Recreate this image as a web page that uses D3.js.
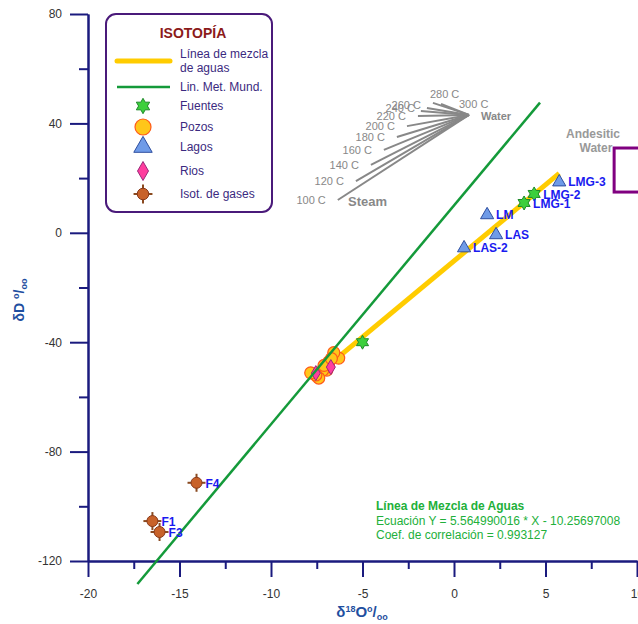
<!DOCTYPE html>
<html>
<head>
<meta charset="utf-8">
<script src="https://cdn.jsdelivr.net/npm/d3@7"></script>
<style>
  body { margin: 0; background: #fff; }
  svg { font-family: "Liberation Sans", Arial, sans-serif; }
</style>
</head>
<body>
<script>
// --- data ---
const yTicksMajor = [-120, -80, -40, 0, 40, 80];
const yTicksMinor = [-100, -60, -20, 20, 60];
const xTicksMajor = [-20, -15, -10, -5, 0, 5, 10];
const xTicksMinor = [-17.5, -12.5, -7.5, -2.5, 2.5, 7.5];

const fuentes = [
  { x: -5.0, y: -40.0, label: "" },
  { x: 3.83, y: 10.9, label: "LMG-1" },
  { x: 4.38, y: 14.2, label: "LMG-2" }
];
const pozos = [
  { x: -6.3, y: -45.8 }, { x: -6.57, y: -43.8 }, { x: -6.84, y: -47.2 },
  { x: -6.95, y: -50.2 }, { x: -7.17, y: -50.2 }, { x: -7.39, y: -53.1 },
  { x: -7.55, y: -52.0 }, { x: -7.83, y: -51.2 }, { x: -7.1, y: -48.5 },
  { x: -6.7, y: -46.0 }
];
const lagos = [
  { x: 5.75, y: 18.9, label: "LMG-3" },
  { x: 1.81, y: 6.9, label: "LM" },
  { x: 2.30, y: -0.4, label: "LAS" },
  { x: 0.55, y: -5.2, label: "LAS-2" }
];
const rios = [
  { x: -6.73, y: -49.1 }, { x: -7.55, y: -51.3 }
];
const gases = [
  { x: -14.07, y: -91.4, label: "F4" },
  { x: -16.48, y: -105.4, label: "F1" },
  { x: -16.09, y: -109.4, label: "F3" }
];

const mezclaLine = [[-7.8, -53.7], [5.75, 21.7]];
const meteoricLine = [[-17.3, -128.4], [4.7, 47.6]];

const waterPoint = [0.82, 43.1];
const steamEnds = [
  { t: "100 C", x: -6.35, y: 12.0 },
  { t: "120 C", x: -5.36, y: 18.9 },
  { t: "140 C", x: -4.54, y: 24.8 },
  { t: "160 C", x: -3.83, y: 30.3 },
  { t: "180 C", x: -3.12, y: 35.0 },
  { t: "200 C", x: -2.57, y: 39.0 },
  { t: "220 C", x: -1.97, y: 42.7 },
  { t: "240 C", x: -1.81, y: 44.5 },
  { t: "260 C", x: -1.48, y: 45.6 },
  { t: "280 C", x: -1.15, y: 47.5 },
  { t: "300 C", x: -0.71, y: 47.1 }
];
const andesiticBox = { x0: 8.75, x1: 11.5, y0: 14.9, y1: 31.0 };

const legendItems = ["Línea de mezcla|de aguas", "Lin. Met. Mund.", "Fuentes", "Pozos", "Lagos", "Rios", "Isot. de gases"];
const equationLines = ["Línea de Mezcla de Aguas", "Ecuación Y = 5.564990016 * X - 10.25697008", "Coef. de correlación = 0.993127"];

// --- layout ---
const W = 638, H = 624;
const axisColor = "#1a1a7e";
const svg = d3.select("body").append("svg").attr("width", W).attr("height", H);

const x = d3.scaleLinear().domain([-20, 10]).range([88, 637]);
const y = d3.scaleLinear().domain([-120, 80]).range([561, 14]);

// axes (hyphen minus like the original, not the unicode minus)
const fmt = d => String(d);
function styleAxis(g) {
  g.selectAll("path, line").attr("stroke", axisColor).attr("stroke-width", 2);
  g.selectAll("text").attr("fill", "#333").attr("font-size", 12)
    .attr("font-family", "Liberation Sans, Arial, sans-serif");
}
svg.append("g").attr("transform", "translate(88,0)")
  .call(d3.axisLeft(y).tickValues(yTicksMinor).tickSize(9).tickFormat("").tickSizeOuter(0))
  .call(styleAxis);
svg.append("g").attr("transform", "translate(88,0)")
  .call(d3.axisLeft(y).tickValues(yTicksMajor).tickSize(18).tickPadding(8).tickSizeOuter(0).tickFormat(fmt))
  .call(styleAxis);
svg.append("g").attr("transform", "translate(0,561)")
  .call(d3.axisBottom(x).tickValues(xTicksMinor).tickSize(8).tickFormat("").tickSizeOuter(0))
  .call(styleAxis);
svg.append("g").attr("transform", "translate(0,561)")
  .call(d3.axisBottom(x).tickValues(xTicksMajor).tickSize(16).tickPadding(12).tickSizeOuter(0).tickFormat(fmt))
  .call(styleAxis);

// axis titles
const xt = svg.append("text").attr("x", 362).attr("y", 617).attr("text-anchor", "middle")
  .attr("fill", "#1f4fa0").attr("font-weight", "bold").attr("font-size", 15);
xt.append("tspan").text("δ");
xt.append("tspan").attr("font-size", 9).attr("dy", -5).text("18");
xt.append("tspan").attr("dy", 5).text("O");
xt.append("tspan").attr("font-size", 9).attr("dy", -5).text("o");
xt.append("tspan").attr("dy", 5).text("/");
xt.append("tspan").attr("font-size", 9).attr("dy", 3).text("oo");

const yt = svg.append("text").attr("transform", "translate(24,300) rotate(-90)")
  .attr("text-anchor", "middle").attr("fill", "#1f4fa0").attr("font-weight", "bold").attr("font-size", 14);
yt.append("tspan").text("δD ");
yt.append("tspan").attr("font-size", 9).attr("dy", -5).text("o");
yt.append("tspan").attr("dy", 5).text("/");
yt.append("tspan").attr("font-size", 9).attr("dy", 3).text("oo");

// steam / water fan
const fan = svg.append("g");
steamEnds.forEach((d, i) => {
  fan.append("line")
    .attr("x1", x(d.x)).attr("y1", y(d.y))
    .attr("x2", x(waterPoint[0])).attr("y2", y(waterPoint[1]))
    .attr("stroke", "#888").attr("stroke-width", 2);
  let lx = x(d.x) - 12, ly = y(d.y) + 4, anchor = "end";
  if (d.t === "280 C") { lx = x(d.x) - 3; ly = y(d.y) - 5; anchor = "start"; }
  if (d.t === "300 C") { lx = x(d.x) + 18; ly = y(d.y) + 4; anchor = "start"; }
  if (d.t === "240 C" || d.t === "260 C") { lx = x(d.x) - 6; ly = y(d.y) + 1; }
  fan.append("text").attr("x", lx).attr("y", ly).attr("text-anchor", anchor)
    .attr("fill", "#888").attr("font-size", 11).text(d.t);
});
fan.append("text").attr("x", x(waterPoint[0]) + 12).attr("y", y(waterPoint[1]) + 5)
  .attr("fill", "#888").attr("font-weight", "bold").attr("font-size", 11).text("Water");
fan.append("text").attr("x", 348).attr("y", 206)
  .attr("fill", "#888").attr("font-weight", "bold").attr("font-size", 13).text("Steam");

// andesitic water
svg.append("rect")
  .attr("x", x(andesiticBox.x0)).attr("y", y(andesiticBox.y1))
  .attr("width", x(andesiticBox.x1) - x(andesiticBox.x0))
  .attr("height", y(andesiticBox.y0) - y(andesiticBox.y1))
  .attr("fill", "none").attr("stroke", "#800080").attr("stroke-width", 3);
svg.append("text").attr("x", 593).attr("y", 138).attr("text-anchor", "middle")
  .attr("fill", "#999").attr("font-weight", "bold").attr("font-size", 12).text("Andesitic");
svg.append("text").attr("x", 596).attr("y", 152).attr("text-anchor", "middle")
  .attr("fill", "#999").attr("font-weight", "bold").attr("font-size", 12).text("Water");

// lines
const line = d3.line().x(d => x(d[0])).y(d => y(d[1]));
svg.append("path").datum(mezclaLine).attr("d", line)
  .attr("stroke", "#ffcc00").attr("stroke-width", 5).attr("fill", "none");

// markers
function starPath(ro, ri) {
  const pts = [];
  for (let k = 0; k < 12; k++) {
    const r = k % 2 === 0 ? ro : ri;
    const a = -Math.PI / 2 + k * Math.PI / 6;
    pts.push([r * Math.cos(a), r * Math.sin(a)]);
  }
  return "M" + pts.map(p => p.join(",")).join("L") + "Z";
}
function diamondPath(w, h) {
  return `M0,${-h / 2}L${w / 2},0L0,${h / 2}L${-w / 2},0Z`;
}
const triPath = d3.symbol().type(d3.symbolTriangle).size(75)();

function drawStar(g, cx, cy, s) {
  g.append("path").attr("transform", `translate(${cx},${cy})`).attr("d", starPath(7 * s, 4 * s))
    .attr("fill", "#3ccf3c").attr("stroke", "#1f8a2a").attr("stroke-width", 1);
}
function drawCircle(g, cx, cy, r) {
  g.append("circle").attr("cx", cx).attr("cy", cy).attr("r", r)
    .attr("fill", "#ffc61a").attr("stroke", "#ff5a1a").attr("stroke-width", 1.2);
}
function drawTri(g, cx, cy, s) {
  g.append("path").attr("transform", `translate(${cx},${cy + 1}) scale(${s})`).attr("d", triPath)
    .attr("fill", "#6f9be8").attr("stroke", "#2f4fa0").attr("stroke-width", 1 / s);
}
function drawDiamond(g, cx, cy, w, h) {
  g.append("path").attr("transform", `translate(${cx},${cy})`).attr("d", diamondPath(w, h))
    .attr("fill", "#ff3d9e").attr("stroke", "#9a2a7a").attr("stroke-width", 1);
}
function drawGas(g, cx, cy, s) {
  g.append("line").attr("x1", cx - 9 * s).attr("x2", cx + 9 * s).attr("y1", cy).attr("y2", cy)
    .attr("stroke", "#8a4a20").attr("stroke-width", 2);
  g.append("line").attr("x1", cx).attr("x2", cx).attr("y1", cy - 9 * s).attr("y2", cy + 9 * s)
    .attr("stroke", "#8a4a20").attr("stroke-width", 2);
  g.append("circle").attr("cx", cx).attr("cy", cy).attr("r", 5.5 * s)
    .attr("fill", "#c8622a").attr("stroke", "#8a3a1a").attr("stroke-width", 1);
}

const pts = svg.append("g");
pozos.forEach(d => drawCircle(pts, x(d.x), y(d.y), 6));
rios.forEach(d => drawDiamond(pts, x(d.x), y(d.y), 9, 15));
fuentes.forEach(d => drawStar(pts, x(d.x), y(d.y), 1));
lagos.forEach(d => drawTri(pts, x(d.x), y(d.y), 1));
gases.forEach(d => drawGas(pts, x(d.x), y(d.y), 1));

// meteoric water line on top
svg.append("path").datum(meteoricLine).attr("d", line)
  .attr("stroke", "#149a3a").attr("stroke-width", 2.5).attr("fill", "none");

// point labels
const labelled = fuentes.concat(lagos, gases).filter(d => d.label);
svg.append("g").selectAll("text").data(labelled).join("text")
  .attr("x", d => x(d.x) + 9).attr("y", d => y(d.y) + 5)
  .attr("fill", "#1a1af0").attr("font-weight", "bold").attr("font-size", 12)
  .text(d => d.label);

// equation box
svg.append("g").selectAll("text").data(equationLines).join("text")
  .attr("x", 376).attr("y", (d, i) => 510 + i * 14.5)
  .attr("fill", "#22b03a").attr("font-size", 12)
  .attr("font-weight", (d, i) => i === 0 ? "bold" : "normal")
  .text(d => d);

// legend
const lg = svg.append("g");
lg.append("rect").attr("x", 106).attr("y", 14).attr("width", 166).attr("height", 198)
  .attr("rx", 10).attr("fill", "#fff").attr("stroke", "#4a1a7a").attr("stroke-width", 2);
lg.append("text").attr("x", 193).attr("y", 38).attr("text-anchor", "middle")
  .attr("fill", "#8b1a1a").attr("font-weight", "bold").attr("font-size", 14).text("ISOTOPÍA");
const rowY = [61, 87, 106, 127, 147, 171, 194];
const textColor = "#3b2a80";
legendItems.forEach((t, i) => {
  const parts = t.split("|");
  if (parts.length > 1) {
    lg.append("text").attr("x", 180).attr("y", rowY[i] - 3).attr("fill", textColor).attr("font-size", 12).text(parts[0]);
    lg.append("text").attr("x", 180).attr("y", rowY[i] + 11).attr("fill", textColor).attr("font-size", 12).text(parts[1]);
  } else {
    lg.append("text").attr("x", 180).attr("y", rowY[i] + 4).attr("fill", textColor).attr("font-size", 12).text(t);
  }
});
lg.append("line").attr("x1", 117).attr("x2", 170).attr("y1", rowY[0]).attr("y2", rowY[0])
  .attr("stroke", "#ffcc00").attr("stroke-width", 5).attr("stroke-linecap", "round");
lg.append("line").attr("x1", 117).attr("x2", 170).attr("y1", rowY[1]).attr("y2", rowY[1])
  .attr("stroke", "#149a3a").attr("stroke-width", 2.5);
drawStar(lg, 143, rowY[2], 1.1);
drawCircle(lg, 143, rowY[3], 8);
drawTri(lg, 143, rowY[4] - 1, 1.4);
drawDiamond(lg, 143, rowY[5], 11, 19);
drawGas(lg, 143, rowY[6], 1.05);
</script>
</body>
</html>
